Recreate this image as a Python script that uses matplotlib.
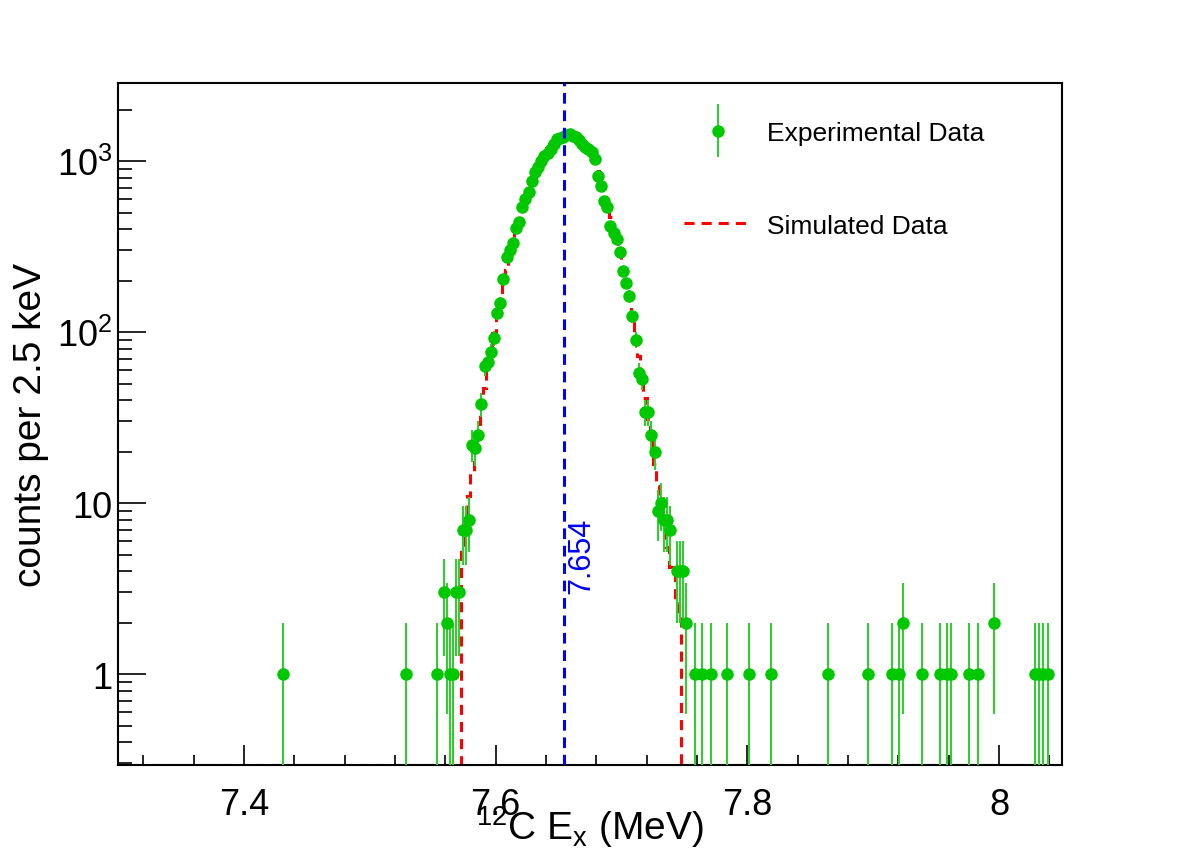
import numpy as np
import matplotlib
matplotlib.use("Agg")
import matplotlib.pyplot as plt
from matplotlib.lines import Line2D
from matplotlib.legend_handler import HandlerErrorbar
from matplotlib.ticker import MultipleLocator, LogLocator, FuncFormatter, NullFormatter

plt.rcParams['font.family'] = ['Liberation Sans', 'DejaVu Sans']
plt.rcParams['mathtext.fontset'] = 'custom'
plt.rcParams['mathtext.rm'] = 'Liberation Sans'
plt.rcParams['mathtext.it'] = 'Liberation Sans:italic'

# histogram binning (MeV)
bin_width = 0.0025
x_min, x_max = 7.3, 8.05
y_min, y_max = 0.294, 2860
peak_energy = 7.654

# experimental data, peak region: contiguous bins starting at this centre
peak_first_centre = 7.55375
peak_counts = [1, 0, 3, 2, 1, 1, 3, 3,
               7, 7, 8, 22, 21, 25, 38, 63, 67, 76,
               92, 129, 148, 205, 275, 300, 330, 405, 443, 538,
               600, 660, 762, 860, 920, 1000, 1070, 1115, 1180, 1250,
               1340, 1370, 1390, 1420, 1430, 1410, 1381, 1320, 1257, 1208,
               1170, 1129, 1028, 817, 714, 583, 538, 417, 380, 350,
               294, 227, 194, 163, 124, 90, 58, 53, 34, 34,
               25, 20, 9, 10, 8, 8, 7, 0, 4, 4,
               4, 2, 0, 0, 1, 0, 1]

# isolated experimental points in the tails
tail_energy = [7.4307, 7.5286, 7.7712, 7.7839, 7.8010, 7.8188, 7.8637, 7.8960,
               7.9153, 7.9206, 7.9238, 7.9387, 7.9532, 7.9585, 7.9617, 7.9762,
               7.9836, 7.9960, 8.0286, 8.0317, 8.0352, 8.0389]
tail_counts = [1, 1, 1, 1, 1, 1, 1, 1,
               1, 1, 2, 1, 1, 1, 1, 1,
               1, 2, 1, 1, 1, 1]

# simulated spectrum, contiguous bins from this lower edge
sim_first_edge = 7.5725
sim_counts = [5.5, 8, 11, 15, 20, 27, 36, 47, 61, 78,
              99, 125, 155, 190, 232, 280, 335, 395, 460, 535,
              612, 695, 780, 868, 955, 1040, 1120, 1195, 1265, 1322,
              1368, 1402, 1422, 1430, 1420, 1398, 1370, 1320, 1260, 1200,
              1150, 1080, 1000, 880, 760, 650, 560, 470, 400, 340,
              285, 235, 195, 160, 125, 95, 72, 55, 41, 31,
              23, 17, 12.5, 9.5, 7.5, 5.5, 4.2, 3.9, 2.6, 2.2]

# --- build arrays
peak_x = peak_first_centre + bin_width * np.arange(len(peak_counts))
exp_x = np.concatenate([peak_x, tail_energy])
exp_y = np.concatenate([peak_counts, tail_counts]).astype(float)
keep = exp_y > 0
exp_x, exp_y = exp_x[keep], exp_y[keep]
err = np.sqrt(exp_y)
err_lo = np.minimum(err, exp_y - y_min * 0.5)

n_bins = int(round((x_max - x_min) / bin_width))
edges = x_min + bin_width * np.arange(n_bins + 1)
sim_full = np.zeros(n_bins)
start = int(round((sim_first_edge - x_min) / bin_width))
sim_full[start:start + len(sim_counts)] = sim_counts
sim_full = np.where(sim_full > 0, sim_full, y_min)

fig = plt.figure(figsize=(11.82, 8.53), dpi=100)
ax = fig.add_axes([118 / 1182, 87 / 853, 944 / 1182, 682 / 853])
ax.set_yscale('log')

ax.stairs(sim_full, edges, baseline=None, fill=False, color='#ff0000',
          lw=2.2, linestyle=(0, (3.3, 2.3)), zorder=2)
eb = ax.errorbar(exp_x, exp_y, yerr=[err_lo, err], fmt='o', color='#00c800',
                 ms=8, ecolor='#33cc33', elinewidth=1.5, capsize=0, zorder=3)
ax.axvline(peak_energy, color='#0000ff', lw=2.2, linestyle=(0, (3.5, 2.2)), zorder=4)
ax.text(peak_energy + 0.0022, 5.0, '7.654', rotation=90, color='#0000ff',
        fontsize=22, ha='left', va='center', zorder=5)

ax.set_xlim(x_min, x_max)
ax.set_ylim(y_min, y_max)

ax.xaxis.set_major_locator(MultipleLocator(0.2))
ax.xaxis.set_minor_locator(MultipleLocator(0.04))
ax.xaxis.set_major_formatter(FuncFormatter(lambda v, p: '%g' % round(v, 3)))
ax.yaxis.set_major_locator(LogLocator(base=10))
ax.yaxis.set_minor_locator(LogLocator(base=10, subs=np.arange(2, 10)))
ax.yaxis.set_minor_formatter(NullFormatter())


def ylab(v, pos):
    if v < 0.5:
        return ''
    e = int(round(np.log10(v)))
    if e == 0:
        return '1'
    if e == 1:
        return '10'
    return r'$\mathregular{10^{%d}}$' % e


ax.yaxis.set_major_formatter(FuncFormatter(ylab))

ax.tick_params(which='both', direction='in', top=False, right=False, width=1.2)
ax.tick_params(axis='x', which='major', length=14.4, labelsize=26, pad=16)
ax.tick_params(axis='x', which='minor', length=7.2)
ax.tick_params(axis='y', which='major', length=20, labelsize=26, pad=4)
ax.tick_params(axis='y', which='minor', length=10)
for s in ax.spines.values():
    s.set_linewidth(1.5)

ax.set_xlabel(r'$\mathregular{^{12}}$C E$_\mathregular{x}$ (MeV)', fontsize=28, labelpad=-14)
ax.set_ylabel('counts per 2.5 keV', fontsize=28, labelpad=6)

sim_handle = Line2D([], [], color='#ff0000', lw=2.2, linestyle=(0, (3.3, 2.3)))
ax.legend([eb, sim_handle], ['Experimental Data', 'Simulated Data'],
          loc='upper left', bbox_to_anchor=((684 - 118) / 944, (766 - 122) / 682),
          frameon=False, fontsize=19, handlelength=2.57, handletextpad=0.57,
          labelspacing=2.6, borderpad=0, borderaxespad=0,
          handler_map={type(eb): HandlerErrorbar(yerr_size=1.0)})

fig.savefig('out.png', dpi=100)
